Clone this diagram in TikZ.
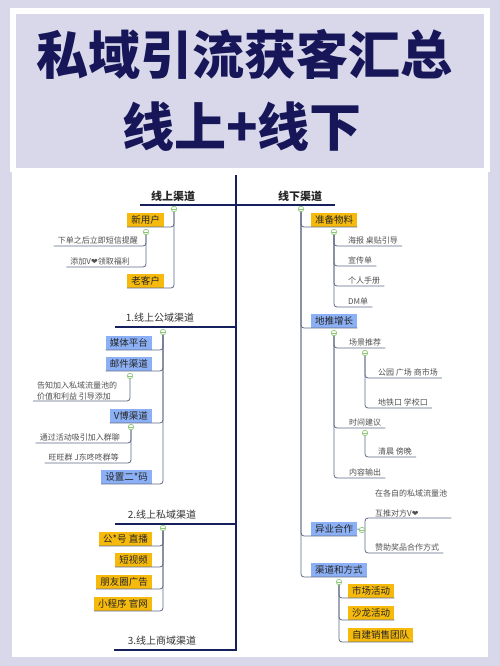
\documentclass[tikz,border=0pt]{standalone}
\usepackage{fontspec}
\setmainfont{Noto Sans CJK SC}
\newfontfamily\dejavu{DejaVu Sans}
\definecolor{bgC}{RGB}{216,216,234}
\definecolor{titleC}{RGB}{22,22,88}
\definecolor{orangeC}{RGB}{246,186,12}
\definecolor{blueC}{RGB}{140,176,245}
\definecolor{connC}{RGB}{95,105,135}
\definecolor{navyC}{RGB}{22,32,92}
\definecolor{greenC}{RGB}{140,200,120}
\definecolor{leafC}{RGB}{80,80,80}
\newcommand{\hrt}{{\dejavu\char"2764}}
\begin{document}
\begin{tikzpicture}[x=1pt,y=-1pt,
  obox/.style={fill=orangeC, font=\fontsize{9.5}{11}\selectfont, text=black!85, inner xsep=4, inner ysep=2, text height=8, text depth=1.5},
  bbox/.style={fill=blueC, font=\fontsize{9.5}{11}\selectfont, text=black!85, inner xsep=4, inner ysep=2, text height=8, text depth=1.5},
  leaf/.style={font=\fontsize{8}{10}\selectfont, text=leafC, inner xsep=4, inner ysep=1, text height=6.8, text depth=1.2},
  leafm/.style={font=\fontsize{8}{10}\selectfont, text=leafC, inner xsep=4, inner ysep=1, align=left},
  conn/.style={draw=connC, line width=0.8, rounded corners=3},
  mainl/.style={draw=navyC, line width=1.8},
  dot/.style={circle, draw=greenC, fill=white, line width=0.7, inner sep=0, minimum size=5.5,
    path picture={\draw[greenC, line width=0.5] ([xshift=-1.6pt]path picture bounding box.center) -- ([xshift=1.6pt]path picture bounding box.center);}},
  head/.style={font=\bfseries\fontsize{11}{13}\selectfont, text=black!85},
  sec/.style={font=\fontsize{10}{12}\selectfont, text=black!80},
  ttl/.style={font=\bfseries\fontsize{52}{56}\selectfont, text=titleC, inner sep=0}
]
\useasboundingbox (0,0) rectangle (500,666);
% background
\fill[bgC] (0,0) rectangle (500,666);
\fill[white] (10,8) rectangle (490,172);
\fill[bgC] (16,14) rectangle (484,168);
\fill[white] (12,172) rectangle (488,657);
% title
\node[ttl] (title1) at (244,54) {私域引流获客汇总};
\node[ttl] (title2) at (242,127) {线上+线下};
% main structure
\coordinate (mtop) at (236,175);
\coordinate (mbot) at (236,650);
\coordinate (hl) at (140,205);
\coordinate (hr) at (335,205);
\coordinate (u1) at (115,327);
\coordinate (u1r) at (236,327);
\coordinate (u2) at (115,524);
\coordinate (u2r) at (236,524);
\coordinate (u3) at (115,650);
\draw[mainl] (mtop) -- (mbot);
\draw[mainl] (hl) -- (hr);
\draw[mainl] (u1) -- (u1r);
\draw[mainl] (u2) -- (u2r);
\draw[mainl, line cap=rect] (u3) -- (mbot);
% headings
\node[head] (hon) at (173,196) {线上渠道};
\node[head] (hoff) at (300,196) {线下渠道};
\node[sec] (s1) at (160,318) {1.线上公域渠道};
\node[sec] (s2) at (162,515) {2.线上私域渠道};
\node[sec] (s3) at (162,641) {3.线上商域渠道};
% ---- left: online channels
\node[obox, anchor=south east] (bnew) at (164,227) {新用户};
\node[obox, anchor=south east] (bold) at (164,288) {老客户};
\node[leaf, anchor=south east] (l1) at (142,246) {下单之后立即短信提醒};
\node[leaf, anchor=south east] (l2) at (134,267) {添加V\hrt 领取福利};
% section 1
\node[bbox, anchor=south east] (bmedia) at (152,350) {媒体平台};
\node[bbox, anchor=south east] (bmail) at (152,371) {邮件渠道};
\node[bbox, anchor=south east] (bvb) at (152,423) {V博渠道};
\node[bbox, anchor=south east] (bqr) at (152,484) {设置二*码};
\node[leafm, anchor=south west] (l3) at (33,401) {告知加入私域流量池的\\[1pt]价值和利益 引导添加};
\node[leaf, anchor=south east] (l4) at (124,443) {通过活动吸引加入群聊};
\node[leaf, anchor=south east] (l5) at (123,463) {旺旺群 J东咚咚群等};
% section 2
\node[obox, anchor=south east] (bgzh) at (152,546) {公*号 直播};
\node[obox, anchor=south east] (bsv) at (152,567) {短视频};
\node[obox, anchor=south east] (bpyq) at (152,589) {朋友圈广告};
\node[obox, anchor=south east] (bxcx) at (152,611) {小程序 官网};
% ---- right: offline channels
\node[obox, anchor=south west] (bprep) at (311,227) {准备物料};
\node[leaf, anchor=south west] (r1) at (344,246) {海报 桌贴引导};
\node[leaf, anchor=south west] (r2) at (344,266) {宣传单};
\node[leaf, anchor=south west] (r3) at (344,286) {个人手册};
\node[leaf, anchor=south west] (r4) at (344,307) {DM单};
\node[bbox, anchor=south west] (bdt) at (311,328) {地推增长};
\node[leaf, anchor=south west] (r5) at (345,348) {场景推荐};
\node[leaf, anchor=south west] (r6) at (374,378) {公园 广场 商市场};
\node[leaf, anchor=south west] (r7) at (374,408) {地铁口 学校口};
\node[leaf, anchor=south west] (r8) at (345,428) {时间建议};
\node[leaf, anchor=south west] (r9) at (374,457) {清晨 傍晚};
\node[leaf, anchor=south west] (r10) at (345,478) {内容输出};
\node[bbox, anchor=south west] (byy) at (311,536) {异业合作};
\node[leafm, anchor=south west] (r11) at (371,518) {在各自的私域流量池\\[10pt]互推对方V\hrt};
\node[leaf, anchor=south west] (r12) at (371,553) {赞助奖品合作方式};
\node[bbox, anchor=south west] (bqd) at (311,577) {渠道和方式};
\node[obox, anchor=south west] (bsc) at (348,598) {市场活动};
\node[obox, anchor=south west] (bsl) at (348,620) {沙龙活动};
\node[obox, anchor=south west] (bzj) at (348,642) {自建销售团队};
% ---- collapse dots (positions)
\coordinate (c1) at (174,209);
\coordinate (c2) at (146,232);
\coordinate (c3) at (163,332);
\coordinate (c4) at (130,376);
\coordinate (c5) at (131,427);
\coordinate (c6) at (163,528);
\coordinate (c7) at (301,209);
\coordinate (c8) at (334,232);
\coordinate (c9) at (334,333);
\coordinate (c10) at (365,353);
\coordinate (c11) at (365,433);
\coordinate (c12) at (362,530);
\coordinate (j12) at (365,530);
\coordinate (c13) at (339,582);
% ---- connectors
\draw[conn] (c1) |- (bnew.south west);
\draw[conn] (c1) |- (bold.south west);
\draw[conn] (c2) |- (l1.south west);
\draw[conn] (c2) |- (l2.south west);
\draw[conn] (c3) |- (bmedia.south west);
\draw[conn] (c3) |- (bmail.south west);
\draw[conn] (c3) |- (bvb.south west);
\draw[conn] (c3) |- (bqr.south west);
\draw[conn] (c4) |- (l3.south west);
\draw[conn] (c5) |- (l4.south west);
\draw[conn] (c5) |- (l5.south west);
\draw[conn] (c6) |- (bgzh.south west);
\draw[conn] (c6) |- (bsv.south west);
\draw[conn] (c6) |- (bpyq.south west);
\draw[conn] (c6) |- (bxcx.south west);
\draw[conn] (c7) |- (bprep.south east);
\draw[conn] (c7) |- (bdt.south east);
\draw[conn] (c7) |- (byy.south east);
\draw[conn] (c7) |- (bqd.south east);
\draw[conn] (c8) |- (r1.south east);
\draw[conn] (c8) |- (r2.south east);
\draw[conn] (c8) |- (r3.south east);
\draw[conn] (c8) |- (r4.south east);
\draw[conn] (c9) |- (r5.south east);
\draw[conn] (c9) |- (r8.south east);
\draw[conn] (c9) |- (r10.south east);
\draw[conn] (c10) |- (r6.south east);
\draw[conn] (c10) |- (r7.south east);
\draw[conn] (c11) |- (r9.south east);
\draw[conn] (byy.east) -- (j12);
\draw[conn] (j12) |- (r11.south east);
\draw[conn] (j12) |- (r12.south east);
\draw[conn] (c13) |- (bsc.south east);
\draw[conn] (c13) |- (bsl.south east);
\draw[conn] (c13) |- (bzj.south east);
% dots on top
\foreach \c in {c1,c2,c3,c4,c5,c6,c7,c8,c9,c10,c11,c12,c13}
  \node[dot] (d\c) at (\c) {};
\end{tikzpicture}
\end{document}
